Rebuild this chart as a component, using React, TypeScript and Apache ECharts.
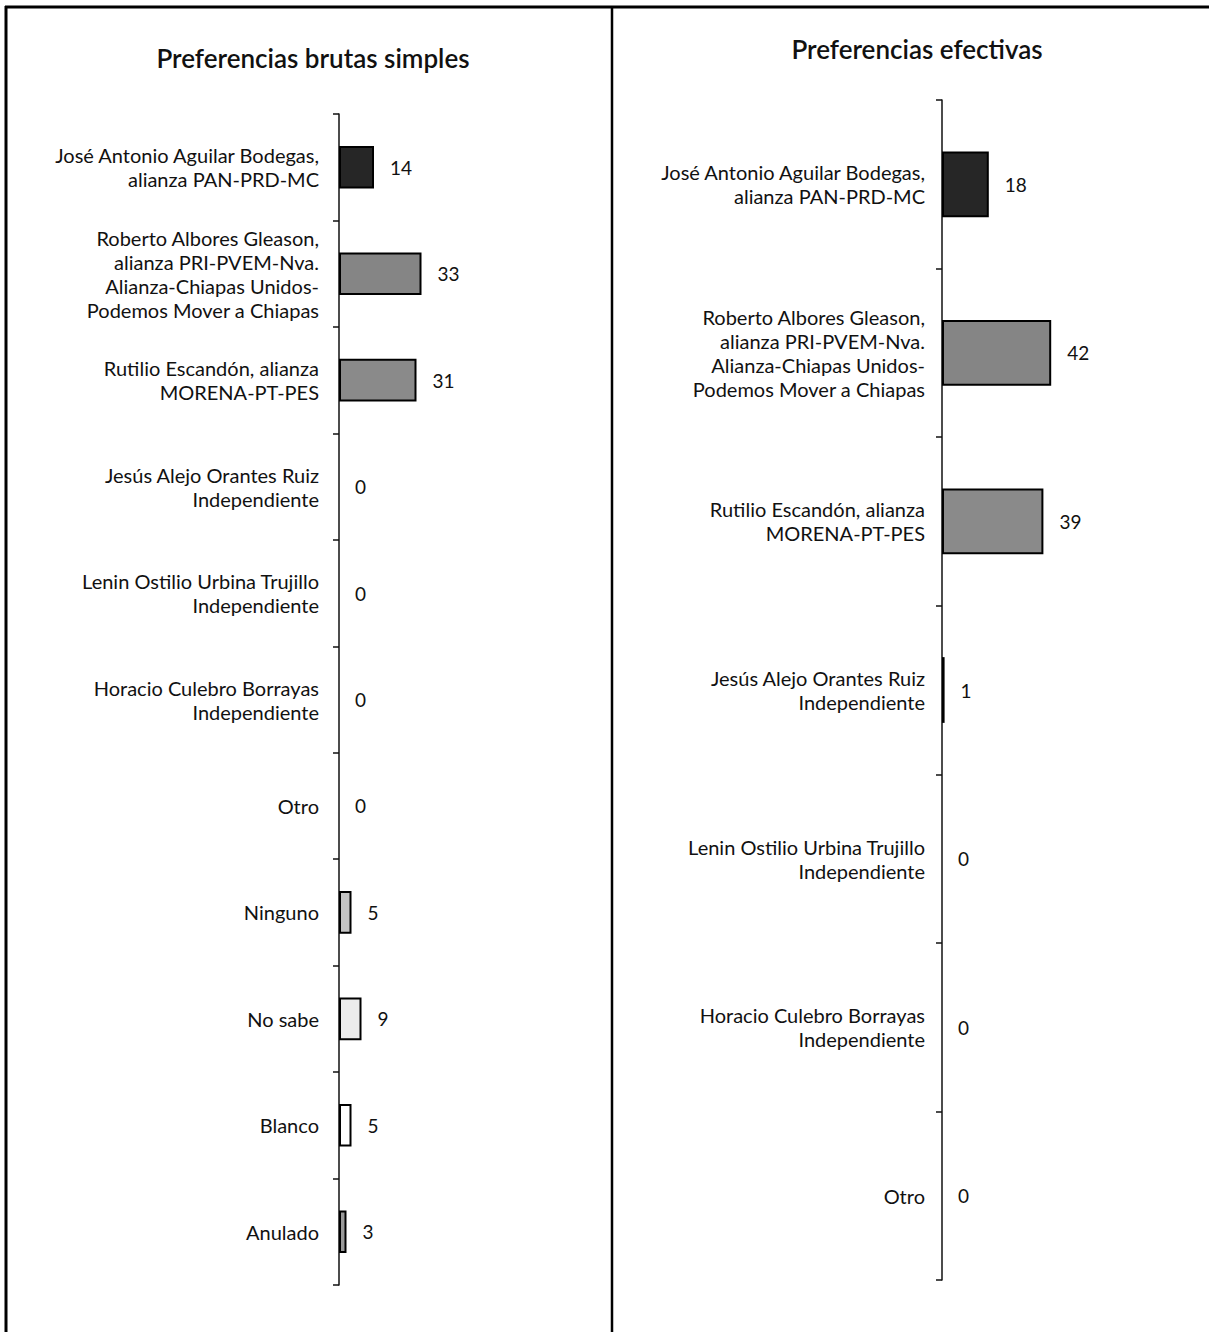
import React, { useEffect, useRef } from "react";
import * as echarts from "echarts";

const leftTitle = "Preferencias brutas simples";
const rightTitle = "Preferencias efectivas";

const leftCategories = [
  "José Antonio Aguilar Bodegas,\nalianza PAN-PRD-MC",
  "Roberto Albores Gleason,\nalianza PRI-PVEM-Nva.\nAlianza-Chiapas Unidos-\nPodemos Mover a Chiapas",
  "Rutilio Escandón, alianza\nMORENA-PT-PES",
  "Jesús Alejo Orantes Ruiz\nIndependiente",
  "Lenin Ostilio Urbina Trujillo\nIndependiente",
  "Horacio Culebro Borrayas\nIndependiente",
  "Otro",
  "Ninguno",
  "No sabe",
  "Blanco",
  "Anulado",
];
const leftValues = [14, 33, 31, 0, 0, 0, 0, 5, 9, 5, 3];

const rightCategories = [
  "José Antonio Aguilar Bodegas,\nalianza PAN-PRD-MC",
  "Roberto Albores Gleason,\nalianza PRI-PVEM-Nva.\nAlianza-Chiapas Unidos-\nPodemos Mover a Chiapas",
  "Rutilio Escandón, alianza\nMORENA-PT-PES",
  "Jesús Alejo Orantes Ruiz\nIndependiente",
  "Lenin Ostilio Urbina Trujillo\nIndependiente",
  "Horacio Culebro Borrayas\nIndependiente",
  "Otro",
];
const rightValues = [18, 42, 39, 1, 0, 0, 0];

// fill styles per bar (kept separate from data)
const leftFills = ["#262626", "#858585", "#8a8a8a", "#555", "#555", "#555", "#555", "#c4c4c4", "#ececec", "#ffffff", "#9a9a9a"];
const rightFills = ["#262626", "#858585", "#8a8a8a", "#222", "#555", "#555", "#555"];

const FONT = "Lato, 'Open Sans', sans-serif";

export default function App() {
  const ref = useRef<HTMLDivElement>(null);
  useEffect(() => {
    if (!ref.current) return;
    const chart = echarts.init(ref.current, undefined, { renderer: "svg" });
    const axisCommon = {
      type: "category" as const,
      inverse: true,
      axisLine: { show: true, lineStyle: { color: "#111", width: 1.5 } },
      axisTick: { show: true, length: 6, lineStyle: { color: "#111", width: 1.5 } },
      axisLabel: {
        color: "#111",
        fontSize: 20,
        lineHeight: 24,
        fontFamily: FONT,
        margin: 20,
        align: "right" as const,
      },
    };
    const barCommon = {
      type: "bar" as const,
      barWidth: "40%",
      label: {
        show: true,
        position: "right" as const,
        distance: 16,
        color: "#111",
        fontSize: 19,
        fontFamily: FONT,
      },
    };
    chart.setOption({
      animation: false,
      backgroundColor: "#fff",
      title: [
        {
          text: leftTitle,
          left: 308,
          top: 40,
          textAlign: "center",
          textStyle: { fontSize: 26, fontWeight: 600, color: "#111", fontFamily: FONT },
        },
        {
          text: rightTitle,
          left: 912,
          top: 31,
          textAlign: "center",
          textStyle: { fontSize: 26, fontWeight: 600, color: "#111", fontFamily: FONT },
        },
      ],
      grid: [
        { left: 339, top: 114, width: 250, height: 1171 },
        { left: 942, top: 100, width: 260, height: 1180 },
      ],
      xAxis: [
        { type: "value", gridIndex: 0, min: 0, max: 100, show: false },
        { type: "value", gridIndex: 1, min: 0, max: 100, show: false },
      ],
      yAxis: [
        {
          ...axisCommon,
          gridIndex: 0,
          data: leftCategories,
        },
        {
          ...axisCommon,
          gridIndex: 1,
          data: rightCategories,
          axisLabel: { ...axisCommon.axisLabel, margin: 17 },
        },
      ],
      series: [
        {
          ...barCommon,
          xAxisIndex: 0,
          yAxisIndex: 0,
          data: leftValues.map((v, i) => ({
            value: v,
            itemStyle: { color: leftFills[i], borderColor: "#000", borderWidth: v > 0 ? 2 : 0 },
          })),
        },
        {
          ...barCommon,
          xAxisIndex: 1,
          yAxisIndex: 1,
          barWidth: "39%",
          data: rightValues.map((v, i) => ({
            value: v,
            itemStyle: { color: rightFills[i], borderColor: "#000", borderWidth: v > 0 ? 2 : 0 },
          })),
        },
      ],
      graphic: [
        { type: "line", shape: { x1: 5, y1: 7, x2: 1209, y2: 7 }, style: { stroke: "#000", lineWidth: 3 } },
        { type: "line", shape: { x1: 6, y1: 6, x2: 6, y2: 1332 }, style: { stroke: "#000", lineWidth: 3 } },
        { type: "line", shape: { x1: 612, y1: 6, x2: 612, y2: 1332 }, style: { stroke: "#000", lineWidth: 2.5 } },
      ],
    });
    return () => chart.dispose();
  }, []);
  return (
    <div
      ref={ref}
      style={{ position: "absolute", left: 0, top: 0, width: 1209, height: 1332 }}
    />
  );
}
